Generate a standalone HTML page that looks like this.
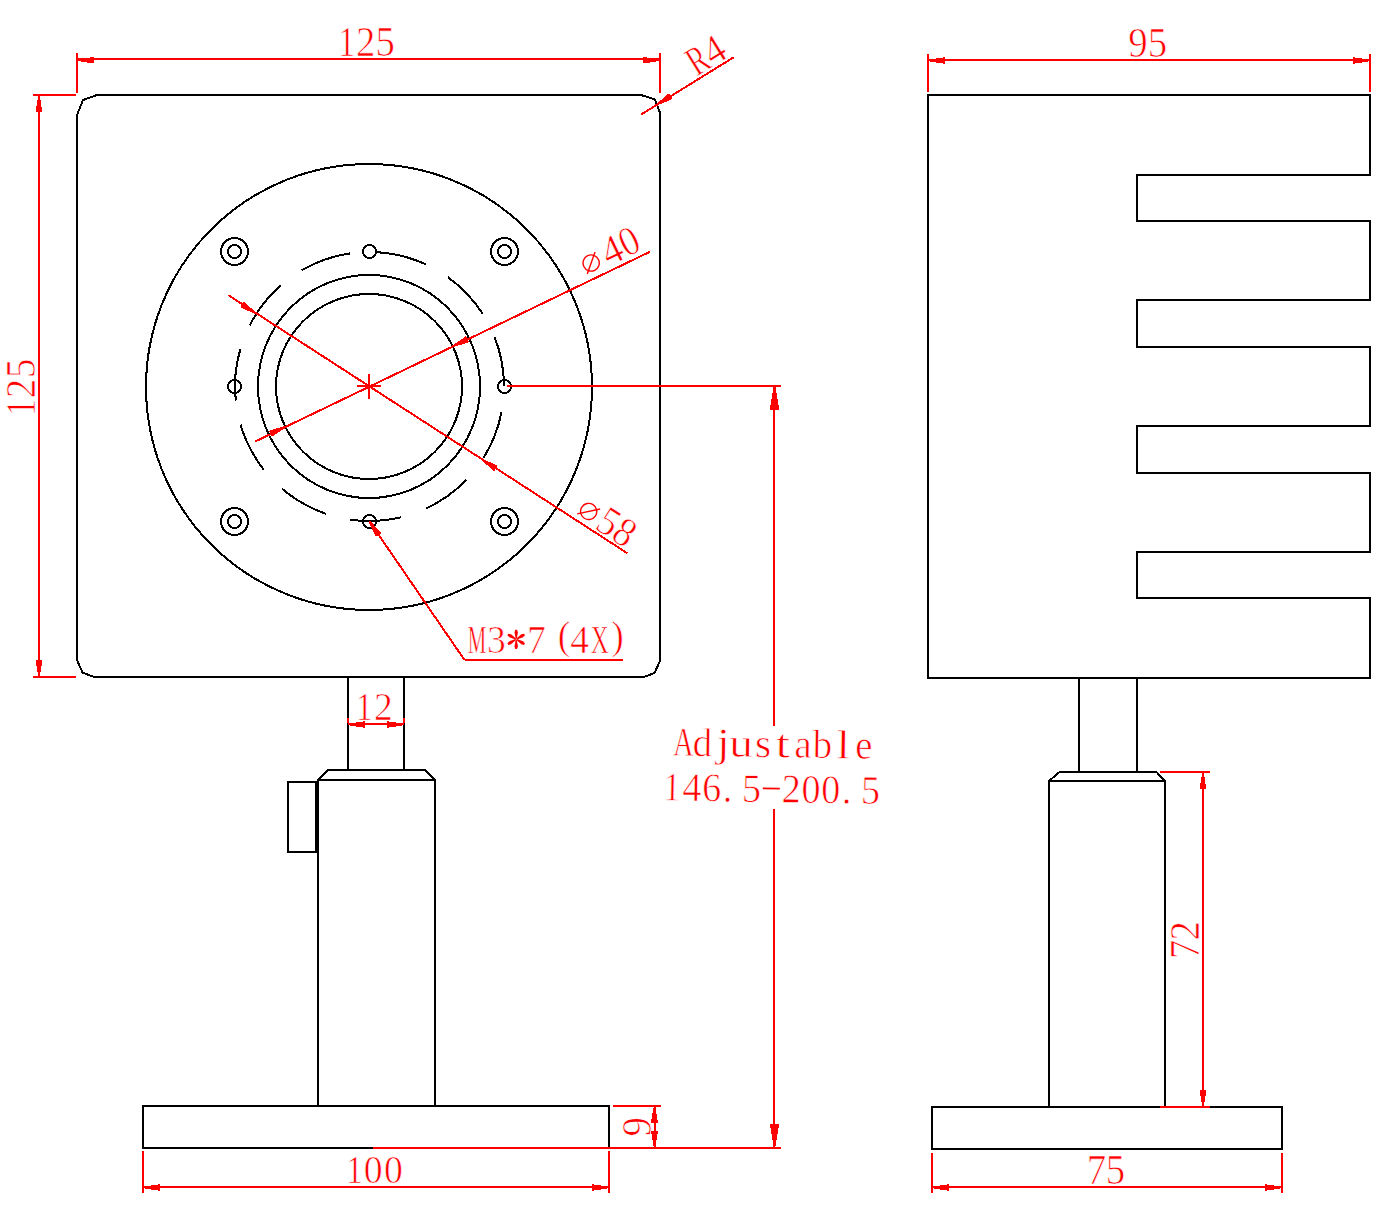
<!DOCTYPE html>
<html><head><meta charset="utf-8"><title>drawing</title>
<style>html,body{margin:0;padding:0;background:#fff;}svg{display:block;}text{font-family:"Liberation Serif",serif;fill:#ff0000;text-anchor:middle;stroke:#ffffff;stroke-width:0.7px;}</style></head><body>
<svg width="1389" height="1207" viewBox="0 0 1389 1207">
<rect x="0" y="0" width="1389" height="1207" fill="#ffffff"/>
<g>
<text transform="translate(346.7 55.7) scale(0.82 1)" font-size="41.3">1</text>
<text transform="translate(365.6 55.7) scale(0.94 1)" font-size="41.3">2</text>
<text transform="translate(385.2 55.7) scale(0.94 1)" font-size="41.3">5</text>
<g transform="translate(35.3 388) rotate(-90)">
<text transform="translate(-19.6 0) scale(0.82 1)" font-size="41.3">1</text>
<text transform="translate(-0.5 0) scale(0.94 1)" font-size="41.3">2</text>
<text transform="translate(19.6 0) scale(0.94 1)" font-size="41.3">5</text>
</g>
<g transform="translate(712.9 66.7) rotate(-31.71)">
<text transform="translate(-9.5 0) scale(0.7 1)" font-size="41.3">R</text>
<text transform="translate(9.8 0) scale(0.94 1)" font-size="41.3">4</text>
</g>
<g transform="translate(649.7 251.9) rotate(-25.64)">
<circle cx="-57.6" cy="-15.3" r="8.1" fill="none" stroke="#ff0000" stroke-width="1.4"/>
<line x1="-65.9" y1="-7" x2="-49.3" y2="-23.6" stroke="#ff0000" stroke-width="1.4"/>
<text transform="translate(-33.2 -4.4) scale(0.97 1)" font-size="41.3">4</text>
<text transform="translate(-14 -4.9) scale(0.9 1)" font-size="41.3">0</text>
</g>
<g transform="translate(627.3 553.2) rotate(32.86)">
<circle cx="-55.1" cy="-14.1" r="8.1" fill="none" stroke="#ff0000" stroke-width="1.4"/>
<line x1="-63.4" y1="-5.8" x2="-46.8" y2="-22.4" stroke="#ff0000" stroke-width="1.4"/>
<text transform="translate(-32.5 -2.8) scale(0.92 1)" font-size="41.3">5</text>
<text transform="translate(-13.4 -2.8) scale(0.92 1)" font-size="41.3">8</text>
</g>
<text transform="translate(477 652.9) scale(0.52 1)" font-size="40">M</text>
<text transform="translate(496.4 652.9) scale(0.94 1)" font-size="40">3</text>
<polygon points="516.7,638.8 517.9,632.39 517.1,629.7 515.3,629.7 514.5,632.39 515.7,638.8" fill="#ff0000"/>
<polygon points="516.02,638.62 511.06,634.37 508.34,633.72 507.44,635.28 509.36,637.32 515.52,639.48" fill="#ff0000"/>
<polygon points="515.52,639.12 509.36,641.28 507.44,643.32 508.34,644.88 511.06,644.23 516.02,639.98" fill="#ff0000"/>
<polygon points="515.7,639.8 514.5,646.21 515.3,648.9 517.1,648.9 517.9,646.21 516.7,639.8" fill="#ff0000"/>
<polygon points="516.38,639.98 521.34,644.23 524.06,644.88 524.96,643.32 523.04,641.28 516.88,639.12" fill="#ff0000"/>
<polygon points="516.88,639.48 523.04,637.32 524.96,635.28 524.06,633.72 521.34,634.37 516.38,638.62" fill="#ff0000"/>
<text transform="translate(536.4 652.9) scale(0.94 1)" font-size="40">7</text>
<text transform="translate(564 648.5) scale(0.94 1)" font-size="40">(</text>
<text transform="translate(579.6 652.9) scale(0.94 1)" font-size="40">4</text>
<text transform="translate(599.8 652.9) scale(0.62 1)" font-size="40">X</text>
<text transform="translate(617.5 648.5) scale(0.94 1)" font-size="40">)</text>
<g transform="translate(774 756.9) rotate(0.9)">
<text transform="translate(-90.7 0.3) scale(0.7 1)" font-size="40.6">A</text>
<text transform="translate(-71.8 0.3) scale(0.96 1)" font-size="40.6">d</text>
<text transform="translate(-51.1 0.3) scale(1.2 1)" font-size="40.6">j</text>
<text transform="translate(-33.1 0.3) scale(1.18 1)" font-size="40.6">u</text>
<text transform="translate(-11 0.3) scale(1.03 1)" font-size="40.6">s</text>
<text transform="translate(8.7 0.3) scale(1.3 1)" font-size="40.6">t</text>
<text transform="translate(28.8 0.3) scale(0.96 1)" font-size="40.6">a</text>
<text transform="translate(48.3 0.3) scale(0.96 1)" font-size="40.6">b</text>
<text transform="translate(69 0.3) scale(1.25 1)" font-size="40.6">l</text>
<text transform="translate(89.7 0.3) scale(0.96 1)" font-size="40.6">e</text>
<text transform="translate(-101.4 45.3) scale(0.82 1)" font-size="40.6">1</text>
<text transform="translate(-81.56 45.3) scale(0.94 1)" font-size="40.6">4</text>
<text transform="translate(-61.72 45.3) scale(0.94 1)" font-size="40.6">6</text>
<text transform="translate(-45.88 45.3) scale(0.94 1)" font-size="40.6">.</text>
<text transform="translate(-22.04 45.3) scale(0.94 1)" font-size="40.6">5</text>
<rect x="-10.7" y="30.8" width="17" height="1.7" fill="#ff0000"/>
<text transform="translate(17.64 45.3) scale(0.94 1)" font-size="40.6">2</text>
<text transform="translate(37.48 45.3) scale(0.94 1)" font-size="40.6">0</text>
<text transform="translate(57.32 45.3) scale(0.94 1)" font-size="40.6">0</text>
<text transform="translate(73.16 45.3) scale(0.94 1)" font-size="40.6">.</text>
<text transform="translate(97 45.3) scale(0.94 1)" font-size="40.6">5</text>
</g>
<text transform="translate(364.3 719.8) scale(0.82 1)" font-size="40">1</text>
<text transform="translate(383.4 719.8) scale(0.94 1)" font-size="40">2</text>
<g transform="translate(650.7 1126.7) rotate(-90)">
<text transform="translate(0 0) scale(0.94 1)" font-size="41.3">9</text>
</g>
<text transform="translate(354.6 1182.6) scale(0.82 1)" font-size="40.2">1</text>
<text transform="translate(373.1 1182.6) scale(0.94 1)" font-size="40.2">0</text>
<text transform="translate(393.4 1182.6) scale(0.94 1)" font-size="40.2">0</text>
<text transform="translate(1138 56.8) scale(0.94 1)" font-size="41.3">9</text>
<text transform="translate(1157.4 56.8) scale(0.94 1)" font-size="41.3">5</text>
<g transform="translate(1199.2 940) rotate(-90)">
<text transform="translate(-9.5 0) scale(0.94 1)" font-size="41.3">7</text>
<text transform="translate(9.3 0) scale(0.94 1)" font-size="41.3">2</text>
</g>
<text transform="translate(1096.4 1183.6) scale(0.94 1)" font-size="41.3">7</text>
<text transform="translate(1115.4 1183.6) scale(0.94 1)" font-size="41.3">5</text>
</g>
<g shape-rendering="crispEdges" stroke-linecap="butt">
<path d="M97 95 L641 95 L655 99.5 L660 113 L660 661 L654.5 673 L644 677 L94 677 L82.5 672.5 L77 660 L77 115 L83 100 Z" fill="none" stroke="#000000" stroke-width="2" stroke-linejoin="miter"/>
<ellipse cx="369" cy="387" rx="223" ry="223" fill="none" stroke="#000000" stroke-width="2"/>
<ellipse cx="369" cy="386.5" rx="111" ry="111.5" fill="none" stroke="#000000" stroke-width="2"/>
<ellipse cx="369" cy="386.5" rx="93" ry="92.5" fill="none" stroke="#000000" stroke-width="2"/>
<path d="M350.32 253.38 A134.5 134.5 0 0 0 301.84 270.26" fill="none" stroke="#000000" stroke-width="2"/>
<path d="M426.34 264.6 A134.5 134.5 0 0 0 375.84 252.15" fill="none" stroke="#000000" stroke-width="2"/>
<path d="M482.56 313.64 A134.5 134.5 0 0 0 447.8 277.14" fill="none" stroke="#000000" stroke-width="2"/>
<path d="M504 386.5 A134.5 134.5 0 0 0 494.47 336.77" fill="none" stroke="#000000" stroke-width="2"/>
<path d="M483.56 457.77 A134.5 134.5 0 0 0 501.48 412.39" fill="none" stroke="#000000" stroke-width="2"/>
<path d="M425.7 508.69 A134.5 134.5 0 0 0 466.41 479.76" fill="none" stroke="#000000" stroke-width="2"/>
<path d="M350.08 519.59 A134.5 134.5 0 0 0 400.9 517.28" fill="none" stroke="#000000" stroke-width="2"/>
<path d="M282.15 488.77 A134.5 134.5 0 0 0 325.93 513.75" fill="none" stroke="#000000" stroke-width="2"/>
<path d="M240.54 424.7 A134.5 134.5 0 0 0 263.8 469.68" fill="none" stroke="#000000" stroke-width="2"/>
<path d="M240.34 348.98 A134.5 134.5 0 0 0 235.74 400.56" fill="none" stroke="#000000" stroke-width="2"/>
<path d="M280.91 285.3 A134.5 134.5 0 0 0 249.66 325.44" fill="none" stroke="#000000" stroke-width="2"/>
<circle cx="369.5" cy="251.5" r="6.5" fill="none" stroke="#000000" stroke-width="2"/>
<circle cx="504.5" cy="386.5" r="6.5" fill="none" stroke="#000000" stroke-width="2"/>
<circle cx="369.5" cy="521.5" r="6.5" fill="none" stroke="#000000" stroke-width="2"/>
<circle cx="234.5" cy="386.5" r="6.5" fill="none" stroke="#000000" stroke-width="2"/>
<circle cx="234.5" cy="251.5" r="13.5" fill="none" stroke="#000000" stroke-width="2"/>
<circle cx="234.5" cy="251.5" r="6.5" fill="none" stroke="#000000" stroke-width="2"/>
<circle cx="234.5" cy="521.5" r="13.5" fill="none" stroke="#000000" stroke-width="2"/>
<circle cx="234.5" cy="521.5" r="6.5" fill="none" stroke="#000000" stroke-width="2"/>
<circle cx="504.5" cy="251.5" r="13.5" fill="none" stroke="#000000" stroke-width="2"/>
<circle cx="504.5" cy="251.5" r="6.5" fill="none" stroke="#000000" stroke-width="2"/>
<circle cx="504.5" cy="521.5" r="13.5" fill="none" stroke="#000000" stroke-width="2"/>
<circle cx="504.5" cy="521.5" r="6.5" fill="none" stroke="#000000" stroke-width="2"/>
<line x1="348" y1="677" x2="348" y2="770" stroke="#000000" stroke-width="2"/>
<line x1="404" y1="677" x2="404" y2="770" stroke="#000000" stroke-width="2"/>
<path d="M318 1106 L318 780 L328 770 L425 770 L435 780 L435 1106" fill="none" stroke="#000000" stroke-width="2" stroke-linejoin="miter"/>
<line x1="318" y1="780" x2="435" y2="780" stroke="#000000" stroke-width="2"/>
<path d="M316 782 L288 782 L288 852 L316 852 Z" fill="none" stroke="#000000" stroke-width="2" stroke-linejoin="miter"/>
<path d="M143 1106 L609 1106 L609 1148 L143 1148 Z" fill="none" stroke="#000000" stroke-width="2" stroke-linejoin="miter"/>
<path d="M928 678 L928 95 L1370 95 L1370 175 L1137 175 L1137 221 L1370 221 L1370 300 L1137 300 L1137 347 L1370 347 L1370 426 L1137 426 L1137 473 L1370 473 L1370 552 L1137 552 L1137 598 L1370 598 L1370 678 Z" fill="none" stroke="#000000" stroke-width="2" stroke-linejoin="miter"/>
<line x1="1079" y1="678" x2="1079" y2="772" stroke="#000000" stroke-width="2"/>
<line x1="1137" y1="678" x2="1137" y2="772" stroke="#000000" stroke-width="2"/>
<path d="M1049 1107 L1049 781 L1059.5 772 L1156.5 772 L1165 781 L1165 1107" fill="none" stroke="#000000" stroke-width="2" stroke-linejoin="miter"/>
<line x1="1049" y1="781" x2="1165" y2="781" stroke="#000000" stroke-width="2"/>
<path d="M932 1107 L1282 1107 L1282 1149 L932 1149 Z" fill="none" stroke="#000000" stroke-width="2" stroke-linejoin="miter"/>
</g>
<g shape-rendering="crispEdges" stroke-linecap="butt">
<line x1="77" y1="53" x2="77" y2="93" stroke="#ff0000" stroke-width="2"/>
<line x1="660" y1="53" x2="660" y2="93" stroke="#ff0000" stroke-width="2"/>
<line x1="77" y1="59" x2="660" y2="59" stroke="#ff0000" stroke-width="2"/>
<polygon points="78,61.1 94.2,63.6 94.2,56.8 78,59.3" fill="#ff0000"/>
<polygon points="659,59.3 642.8,56.8 642.8,63.6 659,61.1" fill="#ff0000"/>
<line x1="33" y1="95" x2="76" y2="95" stroke="#ff0000" stroke-width="2"/>
<line x1="33" y1="677" x2="76" y2="677" stroke="#ff0000" stroke-width="2"/>
<line x1="39" y1="95" x2="39" y2="677" stroke="#ff0000" stroke-width="2"/>
<polygon points="38.1,96 35.6,112.2 42.4,112.2 39.9,96" fill="#ff0000"/>
<polygon points="39.9,676 42.4,659.8 35.6,659.8 38.1,676" fill="#ff0000"/>
<line x1="641.3" y1="114.4" x2="733.7" y2="57.3" stroke="#ff0000" stroke-width="2"/>
<polygon points="657.47,105.37 672.57,98.98 668.99,93.19 656.53,103.83" fill="#ff0000"/>
<line x1="255.2" y1="441.5" x2="649.7" y2="251.9" stroke="#ff0000" stroke-width="2"/>
<polygon points="453.23,347.07 468.92,342.31 465.98,336.18 452.45,345.45" fill="#ff0000"/>
<polygon points="284.77,425.93 269.08,430.69 272.02,436.82 285.55,427.55" fill="#ff0000"/>
<line x1="228.6" y1="295.3" x2="627.3" y2="553.2" stroke="#ff0000" stroke-width="2"/>
<polygon points="481.91,460.51 494.16,471.4 497.85,465.68 482.89,458.99" fill="#ff0000"/>
<polygon points="256.09,312.49 243.84,301.6 240.15,307.32 255.11,314.01" fill="#ff0000"/>
<line x1="357" y1="386" x2="381" y2="386" stroke="#ff0000" stroke-width="2"/>
<line x1="369" y1="374" x2="369" y2="399" stroke="#ff0000" stroke-width="2"/>
<line x1="369.5" y1="521.5" x2="464.5" y2="660" stroke="#ff0000" stroke-width="2"/>
<line x1="464.5" y1="660" x2="623" y2="660" stroke="#ff0000" stroke-width="2"/>
<polygon points="368.76,522.01 375.86,536.78 381.47,532.94 370.24,520.99" fill="#ff0000"/>
<line x1="507" y1="386" x2="781" y2="386" stroke="#ff0000" stroke-width="2"/>
<line x1="372.5" y1="1148" x2="781" y2="1148" stroke="#ff0000" stroke-width="2"/>
<line x1="774" y1="386" x2="774" y2="725.5" stroke="#ff0000" stroke-width="2"/>
<line x1="774" y1="809" x2="774" y2="1148" stroke="#ff0000" stroke-width="2"/>
<polygon points="773.6,386.5 769.8,409.5 779.2,409.5 775.4,386.5" fill="#ff0000"/>
<polygon points="775.4,1147 779.2,1124 769.8,1124 773.6,1147" fill="#ff0000"/>
<line x1="348" y1="718" x2="348" y2="723" stroke="#ff0000" stroke-width="2"/>
<line x1="404" y1="718" x2="404" y2="723" stroke="#ff0000" stroke-width="2"/>
<line x1="348" y1="724" x2="404" y2="724" stroke="#ff0000" stroke-width="2"/>
<polygon points="349,725.4 365.2,727.9 365.2,721.1 349,723.6" fill="#ff0000"/>
<polygon points="403,723.6 386.8,721.1 386.8,727.9 403,725.4" fill="#ff0000"/>
<line x1="612.5" y1="1106" x2="661" y2="1106" stroke="#ff0000" stroke-width="2"/>
<line x1="654.5" y1="1106" x2="654.5" y2="1148" stroke="#ff0000" stroke-width="2"/>
<polygon points="653.6,1107 650.9,1123.2 658.1,1123.2 655.4,1107" fill="#ff0000"/>
<polygon points="655.4,1147 658.1,1130.8 650.9,1130.8 653.6,1147" fill="#ff0000"/>
<line x1="143" y1="1151" x2="143" y2="1193" stroke="#ff0000" stroke-width="2"/>
<line x1="609" y1="1151" x2="609" y2="1193" stroke="#ff0000" stroke-width="2"/>
<line x1="143" y1="1187" x2="609" y2="1187" stroke="#ff0000" stroke-width="2"/>
<polygon points="144,1188.4 160.2,1190.9 160.2,1184.1 144,1186.6" fill="#ff0000"/>
<polygon points="608,1186.6 591.8,1184.1 591.8,1190.9 608,1188.4" fill="#ff0000"/>
<line x1="928" y1="54" x2="928" y2="92" stroke="#ff0000" stroke-width="2"/>
<line x1="1370" y1="54" x2="1370" y2="92" stroke="#ff0000" stroke-width="2"/>
<line x1="928" y1="60" x2="1370" y2="60" stroke="#ff0000" stroke-width="2"/>
<polygon points="929,61.4 945.2,63.9 945.2,57.1 929,59.6" fill="#ff0000"/>
<polygon points="1369,59.6 1352.8,57.1 1352.8,63.9 1369,61.4" fill="#ff0000"/>
<line x1="1159.5" y1="772" x2="1210" y2="772" stroke="#ff0000" stroke-width="2"/>
<line x1="1159.5" y1="1107" x2="1210" y2="1107" stroke="#ff0000" stroke-width="2"/>
<line x1="1203" y1="772" x2="1203" y2="1107" stroke="#ff0000" stroke-width="2"/>
<polygon points="1202.1,773 1199.6,789.2 1206.4,789.2 1203.9,773" fill="#ff0000"/>
<polygon points="1203.9,1106 1206.4,1089.8 1199.6,1089.8 1202.1,1106" fill="#ff0000"/>
<line x1="932" y1="1152.5" x2="932" y2="1192.5" stroke="#ff0000" stroke-width="2"/>
<line x1="1282" y1="1152.5" x2="1282" y2="1192.5" stroke="#ff0000" stroke-width="2"/>
<line x1="932" y1="1187" x2="1282" y2="1187" stroke="#ff0000" stroke-width="2"/>
<polygon points="933,1188.4 949.2,1190.9 949.2,1184.1 933,1186.6" fill="#ff0000"/>
<polygon points="1281,1186.6 1264.8,1184.1 1264.8,1190.9 1281,1188.4" fill="#ff0000"/>
</g>
</svg></body></html>
